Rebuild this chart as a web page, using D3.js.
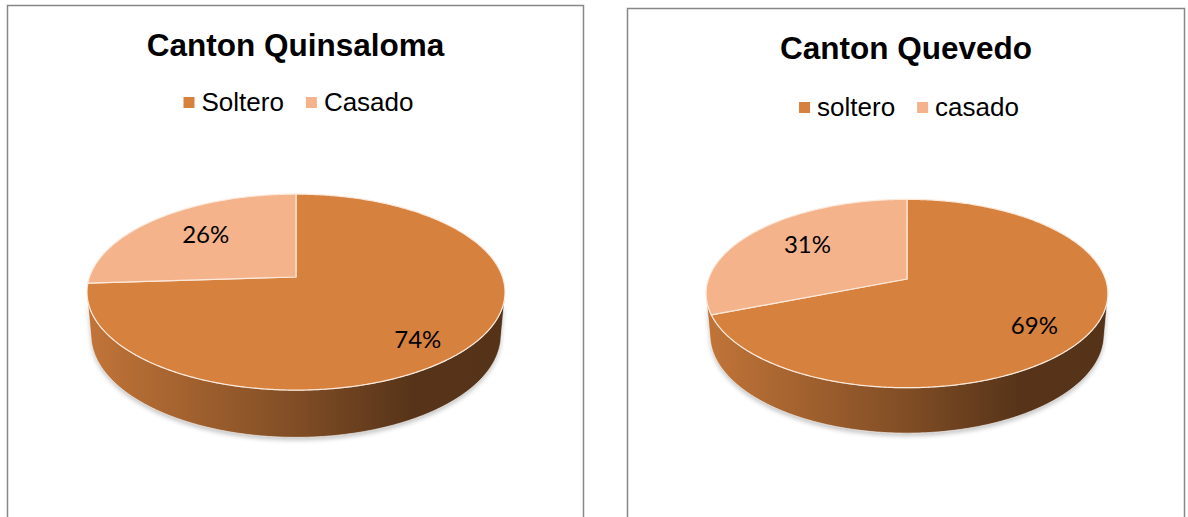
<!DOCTYPE html>
<html>
<head>
<meta charset="utf-8">
<script src="https://cdn.jsdelivr.net/npm/d3@7"></script>
<style>
  body { margin: 0; background: #fff; }
  svg { display: block; }
</style>
</head>
<body>
<svg id="chart" width="1188" height="517"></svg>
<script>
// chart data
const titles = ['Canton Quinsaloma', 'Canton Quevedo'];
const quinsalomaLabels = ['Soltero', 'Casado'];
const quinsalomaValues = [74, 26];
const quevedoLabels = ['soltero', 'casado'];
const quevedoValues = [69, 31];
const sliceColors = ['#d7813e', '#f4b38b'];

// panel layout (frame, pie centre and scale)
const panels = [
  { x: 7.5, y: 5.5, w: 576, title: titles[0], labels: quinsalomaLabels, values: quinsalomaValues,
    titleY: 56, legendY: 111, cx: 296, cy: 277, F: 206.5 },
  { x: 627.5, y: 8.5, w: 557, title: titles[1], labels: quevedoLabels, values: quevedoValues,
    titleY: 59, legendY: 116, cx: 907, cy: 279, F: 198.5 }
];

// 3d view of the disc
const tilt = 27.6 * Math.PI / 180;
const camDist = 5.75;
const depth = 0.235;

var svg = d3.select('#chart');
var defs = svg.append('defs');

defs.append('filter')
    .attr('id', 'soft')
    .attr('x', '-10%').attr('y', '-10%').attr('width', '120%').attr('height', '130%')
  .append('feGaussianBlur')
    .attr('stdDeviation', 2.2);

function project(p, angle, r, h) {
  var X = r * Math.sin(angle), Z = r * Math.cos(angle);
  var w = 1 + (Z * Math.cos(tilt) + h * Math.sin(tilt)) / camDist;
  return [p.cx + p.F * X / w, p.cy + p.F * (h * Math.cos(tilt) - Z * Math.sin(tilt)) / w];
}

function rim(p, a0, a1, h) {
  var pts = [];
  var n = Math.max(2, Math.ceil((a1 - a0) / 0.01));
  for (var i = 0; i <= n; i++) {
    pts.push(project(p, a0 + (a1 - a0) * i / n, 1, h));
  }
  return pts;
}

var line = d3.line().curve(d3.curveLinear);
var pie = d3.pie().sort(null).value(function(d) { return d; });

// side visible where the wall faces the camera
var sideMin = Math.acos(-1 / (camDist * Math.cos(tilt)));
var sideMax = 2 * Math.PI - sideMin;

panels.forEach(function(p, idx) {
  var g = svg.append('g');

  // frame (bottom runs off the page)
  g.append('path')
      .attr('d', 'M' + p.x + ',530V' + p.y + 'H' + (p.x + p.w) + 'V530')
      .attr('fill', 'none')
      .attr('stroke', '#878787')
      .attr('stroke-width', 1.5);

  var midX = p.x + p.w / 2;

  g.append('text')
      .attr('x', midX)
      .attr('y', p.titleY)
      .attr('text-anchor', 'middle')
      .attr('font-family', '"Liberation Sans", Arial, sans-serif')
      .attr('font-weight', 'bold')
      .attr('font-size', 31.5)
      .attr('fill', '#000')
      .text(p.title);

  // legend
  var leg = g.append('g');
  var xpos = 0;
  p.labels.forEach(function(lab, i) {
    leg.append('rect')
        .attr('x', xpos).attr('y', p.legendY - 14)
        .attr('width', 11).attr('height', 11)
        .attr('fill', sliceColors[i]);
    var t = leg.append('text')
        .attr('x', xpos + 18).attr('y', p.legendY)
        .attr('font-family', '"Liberation Sans", Arial, sans-serif')
        .attr('font-size', 26)
        .attr('fill', '#000')
        .text(lab);
    xpos += 18 + t.node().getComputedTextLength() + 22;
  });
  var legW = xpos - 22;
  leg.attr('transform', 'translate(' + (midX + 3 - legW / 2) + ',0)');

  // side gradient
  var gid = 'side' + idx;
  var base = d3.color(sliceColors[0]);
  var grad = defs.append('linearGradient')
      .attr('id', gid)
      .attr('gradientUnits', 'userSpaceOnUse')
      .attr('x1', p.cx - p.F).attr('x2', p.cx + p.F)
      .attr('y1', 0).attr('y2', 0);
  [[0, 0.3], [0.5, 1.45], [0.78, 2.55], [1, 2.6]].forEach(function(s) {
    grad.append('stop')
        .attr('offset', s[0])
        .attr('stop-color', base.darker(s[1]).formatHex());
  });

  var topNear = rim(p, sideMin, sideMax, 0);
  var botNear = rim(p, sideMin, sideMax, depth).reverse();
  var sidePts = topNear.concat(botNear);

  // soft shadow under the disc
  g.append('path')
      .attr('d', line(sidePts) + 'Z')
      .attr('transform', 'translate(0,3)')
      .attr('fill', '#9a9a9a')
      .attr('opacity', 0.55)
      .attr('filter', 'url(#soft)');

  g.append('path')
      .attr('d', line(sidePts) + 'Z')
      .attr('fill', 'url(#' + gid + ')')
      .attr('stroke', '#ffffff')
      .attr('stroke-opacity', 0.6)
      .attr('stroke-width', 1);

  // top face slices
  var arcs = pie(p.values);
  arcs.forEach(function(a, i) {
    var pts = [[p.cx, p.cy]].concat(rim(p, a.startAngle, a.endAngle, 0));
    g.append('path')
        .attr('d', line(pts) + 'Z')
        .attr('fill', sliceColors[i])
        .attr('stroke', '#fbe9dc')
        .attr('stroke-width', 1.2)
        .attr('stroke-linejoin', 'round');
  });

  // percentage labels, pushed out and down for slices facing the viewer
  arcs.forEach(function(a, i) {
    var mid = (a.startAngle + a.endAngle) / 2;
    var front = Math.max(0, -Math.cos(mid));
    var pos = project(p, mid, 0.64 + 0.16 * front, depth * 0.4 * front);
    g.append('text')
        .attr('x', pos[0])
        .attr('y', pos[1] - 4)
        .attr('text-anchor', 'middle')
        .attr('dominant-baseline', 'central')
        .attr('font-family', 'Lato, "Open Sans", sans-serif')
        .attr('font-size', 24)
        .attr('fill', '#000')
        .text(a.data + '%');
  });
});
</script>
</body>
</html>
